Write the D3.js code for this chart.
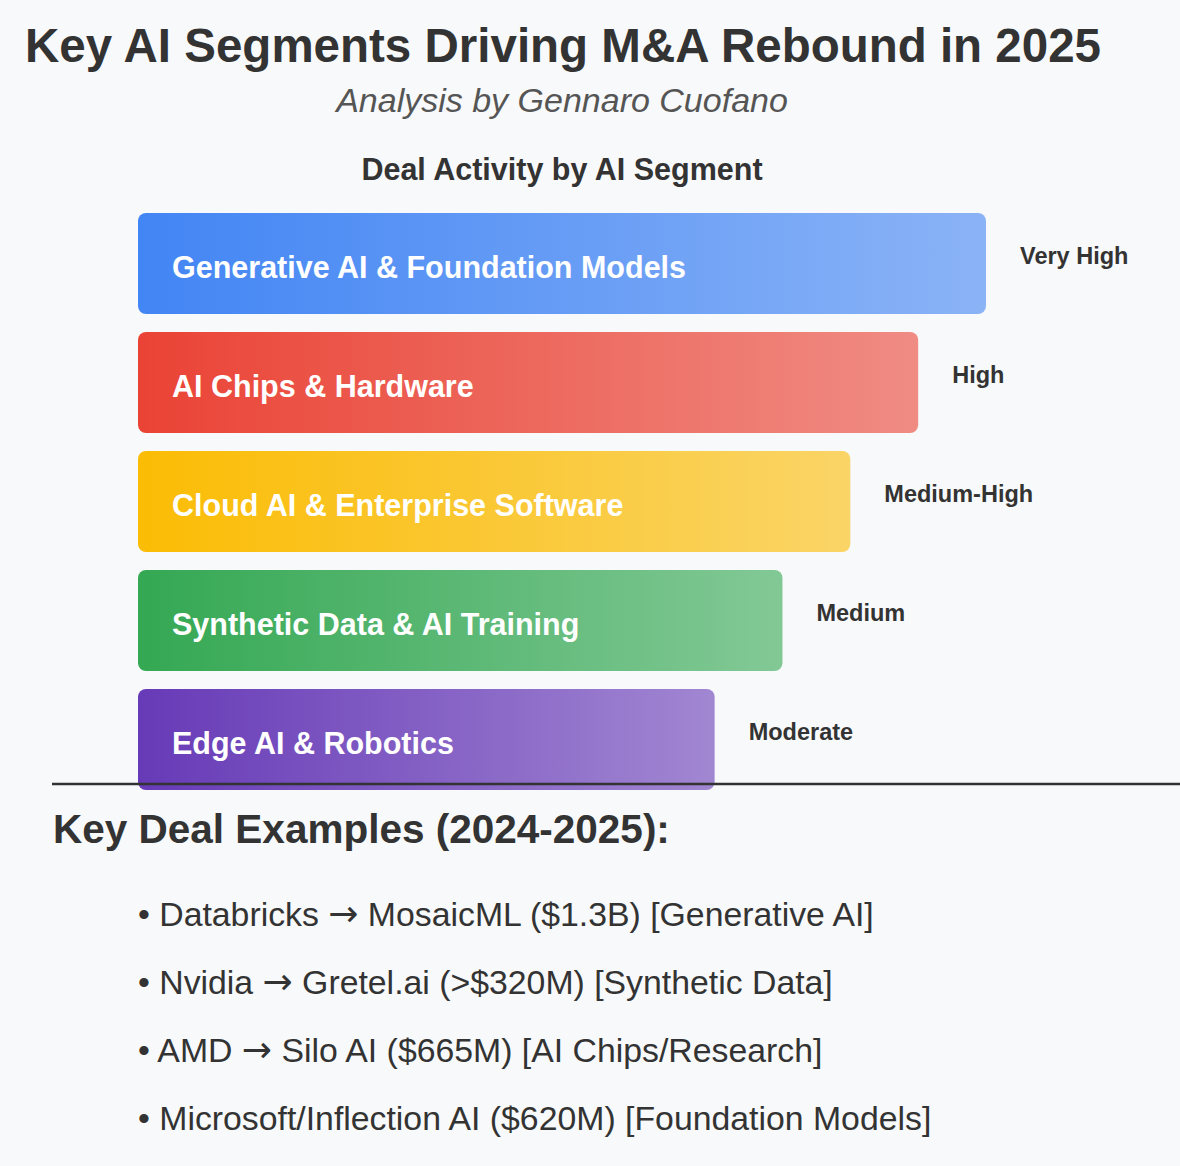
<!DOCTYPE html>
<html>
<head>
<meta charset="utf-8">
<script src="https://cdn.jsdelivr.net/npm/d3@7"></script>
<style>
  html, body { margin: 0; padding: 0; background: #f8f9fa; }
  svg { display: block; }
</style>
</head>
<body>
<svg id="chart" width="1180" height="1166"></svg>
<script>
const categories = [
  "Generative AI & Foundation Models",
  "AI Chips & Hardware",
  "Cloud AI & Enterprise Software",
  "Synthetic Data & AI Training",
  "Edge AI & Robotics"
];
const activityScore = [100, 92, 84, 76, 68];
const activityLabels = ["Very High", "High", "Medium-High", "Medium", "Moderate"];
const segmentColors = ["#4285F4", "#EA4335", "#FBBC04", "#34A853", "#673AB7"];
const dealExamples = [
  "• Databricks → MosaicML ($1.3B) [Generative AI]",
  "• Nvidia → Gretel.ai (>$320M) [Synthetic Data]",
  "• AMD → Silo AI ($665M) [AI Chips/Research]",
  "• Microsoft/Inflection AI ($620M) [Foundation Models]"
];

const font = "'Liberation Sans', Arial, Helvetica, sans-serif";
const svg = d3.select("#chart");
svg.append("rect").attr("width", 1180).attr("height", 1166).attr("fill", "#f8f9fa");

const data = categories.map((c, i) => ({
  name: c, value: activityScore[i], label: activityLabels[i], color: segmentColors[i], i
}));

const defs = svg.append("defs");
data.forEach(d => {
  const g = defs.append("linearGradient").attr("id", "grad" + d.i)
    .attr("x1", "0%").attr("x2", "100%").attr("y1", "0%").attr("y2", "0%");
  g.append("stop").attr("offset", "0%").attr("stop-color", d.color).attr("stop-opacity", 1);
  g.append("stop").attr("offset", "100%").attr("stop-color", d.color).attr("stop-opacity", 0.6);
});

// Titles
svg.append("text").attr("x", 25).attr("y", 62)
  .attr("font-family", font).attr("font-weight", "bold").attr("font-size", 47.5)
  .attr("fill", "#333").text("Key AI Segments Driving M&A Rebound in 2025");
svg.append("text").attr("x", 562).attr("y", 112).attr("text-anchor", "middle")
  .attr("font-family", font).attr("font-style", "italic").attr("font-size", 34)
  .attr("fill", "#555").text("Analysis by Gennaro Cuofano");
svg.append("text").attr("x", 562).attr("y", 180).attr("text-anchor", "middle")
  .attr("font-family", font).attr("font-weight", "bold").attr("font-size", 30.5)
  .attr("fill", "#333").text("Deal Activity by AI Segment");

const x = d3.scaleLinear().domain([0, 100]).range([138, 986]);
const y = d3.scaleBand().domain(categories).range([213, 790]).paddingInner(18 / 119).paddingOuter(0);

const bars = svg.append("g");
bars.selectAll("rect").data(data).join("rect")
  .attr("x", x(0)).attr("y", d => y(d.name))
  .attr("width", d => x(d.value) - x(0)).attr("height", y.bandwidth())
  .attr("rx", 8).attr("ry", 8)
  .attr("fill", d => `url(#grad${d.i})`);

bars.selectAll("text.seg").data(data).join("text").attr("class", "seg")
  .attr("x", x(0) + 34).attr("y", d => y(d.name) + y.bandwidth() / 2 + 14)
  .attr("font-family", font).attr("font-weight", "bold").attr("font-size", 30.5)
  .attr("fill", "#fff").text(d => d.name);

bars.selectAll("text.val").data(data).join("text").attr("class", "val")
  .attr("x", d => x(d.value) + 34).attr("y", d => y(d.name) + y.bandwidth() / 2)
  .attr("font-family", font).attr("font-weight", "bold").attr("font-size", 23.5)
  .attr("fill", "#333").text(d => d.label);

// Divider
svg.append("line").attr("x1", 52).attr("x2", 1180).attr("y1", 784).attr("y2", 784)
  .attr("stroke", "#333").attr("stroke-width", 2.5);

svg.append("text").attr("x", 53).attr("y", 843)
  .attr("font-family", font).attr("font-weight", "bold").attr("font-size", 40.5)
  .attr("fill", "#333").text("Key Deal Examples (2024-2025):");

const deals = svg.append("g").selectAll("text").data(dealExamples).join("text")
  .attr("x", 138).attr("y", (d, i) => 926 + i * 68)
  .attr("font-family", font).attr("font-size", 33.8)
  .attr("fill", "#333");
deals.each(function(d) {
  const parts = d.split("→");
  const t = d3.select(this);
  parts.forEach((p, k) => {
    if (k > 0) t.append("tspan").attr("font-family", "'DejaVu Sans', sans-serif").attr("font-size", 36).text("→");
    t.append("tspan").text(p);
  });
});
</script>
</body>
</html>
